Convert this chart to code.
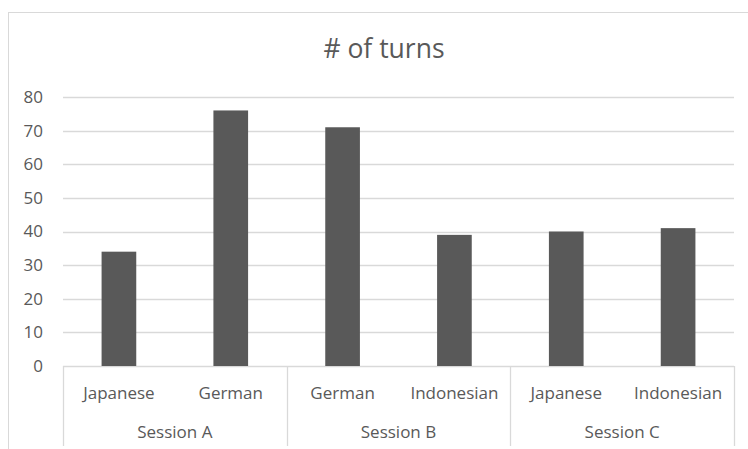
<!DOCTYPE html>
<html lang="en">
  <head>
    <meta charset="UTF-8" />
    <title># of turns</title>
    <script src="https://d3js.org/d3.v7.min.js"></script>
    <style>
      body {
        margin: 0;
        background: #fff;
      }
      svg text {
        font-family: "Open Sans", sans-serif;
        fill: #595959;
      }
    </style>
  </head>
  <body>
    <div id="chart"></div>

    <script>
      const sessions = ["Session A", "Session B", "Session C"];
      const languages = ["Japanese", "German", "German", "Indonesian", "Japanese", "Indonesian"];
      const sessionOf = ["Session A", "Session A", "Session B", "Session B", "Session C", "Session C"];
      const turns = [34, 76, 71, 39, 40, 41];
      const yTicks = [0, 10, 20, 30, 40, 50, 60, 70, 80];

      const width = 748;
      const height = 449;
      const margin = { top: 97, right: 14, bottom: 83, left: 63 };

      const svg = d3
        .select("#chart")
        .append("svg")
        .attr("width", width)
        .attr("height", height);

      // chart frame (runs off the right and bottom edges)
      svg
        .append("rect")
        .attr("x", 8.5)
        .attr("y", 12.5)
        .attr("width", 800)
        .attr("height", 500)
        .attr("fill", "none")
        .attr("stroke", "#d9d9d9");

      svg
        .append("text")
        .attr("x", 384)
        .attr("y", 58)
        .attr("text-anchor", "middle")
        .style("font-size", "26.5px")
        .text("# of turns");

      const idx = d3.range(turns.length);
      const x = d3
        .scaleBand()
        .domain(idx)
        .range([margin.left, width - margin.right])
        .paddingInner(0.69)
        .paddingOuter(0.345);

      const y = d3
        .scaleLinear()
        .domain([0, 80])
        .range([height - margin.bottom, margin.top]);

      // gridlines
      svg
        .append("g")
        .selectAll("line")
        .data(yTicks)
        .join("line")
        .attr("x1", margin.left)
        .attr("x2", width - margin.right)
        .attr("y1", (d) => Math.round(y(d)) + 0.5)
        .attr("y2", (d) => Math.round(y(d)) + 0.5)
        .attr("stroke", "#d9d9d9")
        .attr("stroke-width", 1.3);

      svg
        .append("g")
        .selectAll("text")
        .data(yTicks)
        .join("text")
        .attr("x", 43)
        .attr("y", (d) => y(d))
        .attr("dy", "0.35em")
        .attr("text-anchor", "end")
        .style("font-size", "17px")
        .text((d) => d);

      // bars
      svg
        .append("g")
        .selectAll("rect")
        .data(idx)
        .join("rect")
        .attr("x", (i) => x(i))
        .attr("width", x.bandwidth())
        .attr("y", (i) => y(turns[i]))
        .attr("height", (i) => y(0) - y(turns[i]))
        .attr("fill", "#595959");

      // multi-level category axis
      const step = x.step();
      const x0 = margin.left;
      const axisBottom = 446;

      const groups = sessions.map((s) => {
        const members = idx.filter((i) => sessionOf[i] === s);
        return {
          name: s,
          start: x0 + members[0] * step,
          end: x0 + (members[members.length - 1] + 1) * step,
        };
      });

      const boundaries = [x0].concat(groups.map((g) => g.end));
      svg
        .append("g")
        .selectAll("line")
        .data(boundaries)
        .join("line")
        .attr("x1", (d) => Math.round(d) + 0.5)
        .attr("x2", (d) => Math.round(d) + 0.5)
        .attr("y1", y(0))
        .attr("y2", axisBottom)
        .attr("stroke", "#d9d9d9")
        .attr("stroke-width", 1.3);

      svg
        .append("g")
        .selectAll("text")
        .data(idx)
        .join("text")
        .attr("x", (i) => x(i) + x.bandwidth() / 2)
        .attr("y", 399)
        .attr("text-anchor", "middle")
        .style("font-size", "17px")
        .text((i) => languages[i]);

      svg
        .append("g")
        .selectAll("text")
        .data(groups)
        .join("text")
        .attr("x", (g) => (g.start + g.end) / 2)
        .attr("y", 438)
        .attr("text-anchor", "middle")
        .style("font-size", "17px")
        .text((g) => g.name);
    </script>
  </body>
</html>
